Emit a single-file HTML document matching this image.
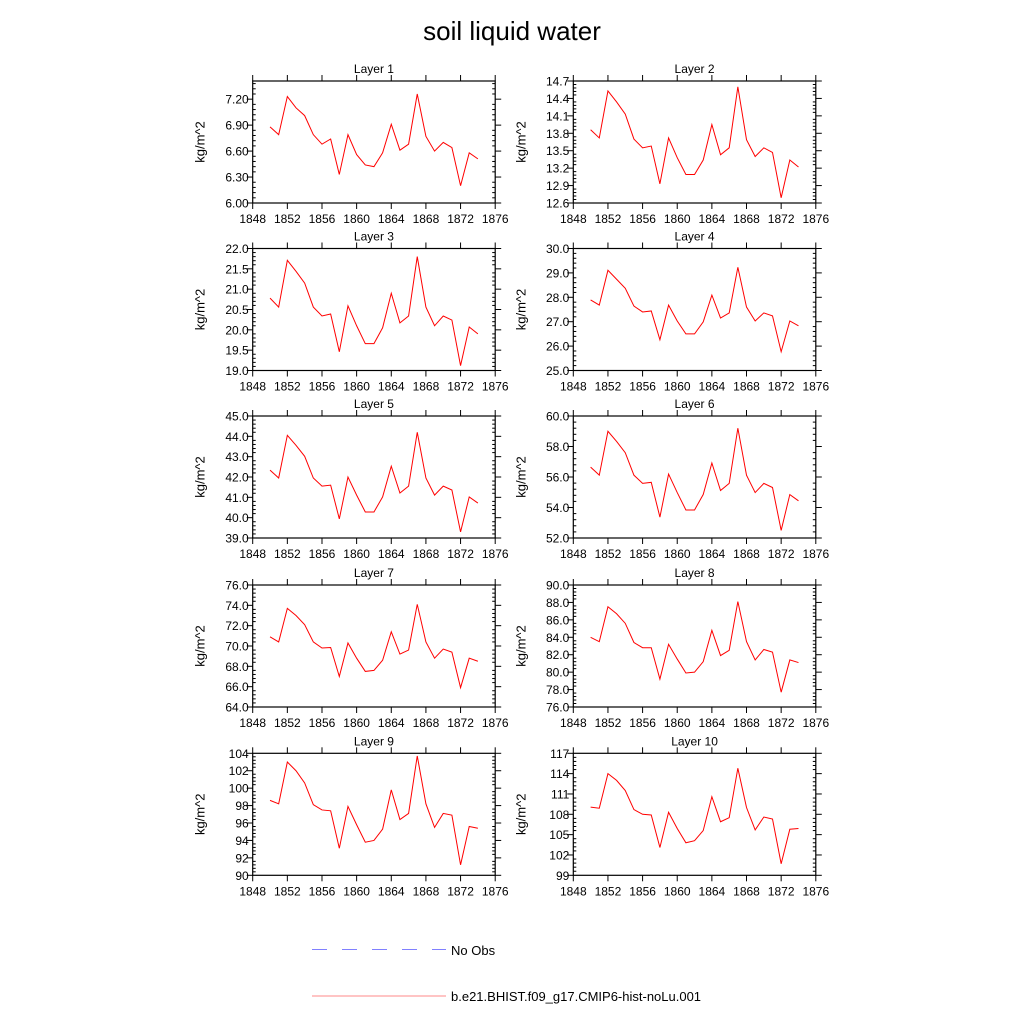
<!DOCTYPE html>
<html><head><meta charset="utf-8"><style>
body{margin:0;background:#fff}
svg text{font-family:"Liberation Sans",sans-serif;fill:#000}
</style></head><body>
<svg id="chart" width="1024" height="1024" viewBox="0 0 1024 1024" xmlns="http://www.w3.org/2000/svg">
<rect width="1024" height="1024" fill="#fff"/>
<text x="512" y="40" font-size="26" text-anchor="middle">soil liquid water</text>
<g>
<line x1="312" y1="949.5" x2="446" y2="949.5" stroke="#8080ff" stroke-width="1" stroke-dasharray="15,15"/>
<text x="451" y="955" font-size="13">No Obs</text>
<line x1="312" y1="996" x2="446" y2="996" stroke="#ff8888" stroke-width="1"/>
<text x="451" y="1001" font-size="13">b.e21.BHIST.f09_g17.CMIP6-hist-noLu.001</text>
</g>
<g id="panels"></g>
</svg>
<script>
const years=[1850,1851,1852,1853,1854,1855,1856,1857,1858,1859,1860,1861,1862,1863,1864,1865,1866,1867,1868,1869,1870,1871,1872,1873,1874];
const xTicks=[1848,1852,1856,1860,1864,1868,1872,1876];
const layer1=[6.88,6.79,7.23,7.10,7.01,6.79,6.68,6.74,6.33,6.79,6.56,6.44,6.42,6.58,6.91,6.61,6.68,7.26,6.77,6.60,6.70,6.64,6.20,6.58,6.51];
const layer2=[13.86,13.72,14.53,14.34,14.13,13.70,13.55,13.58,12.93,13.72,13.38,13.09,13.09,13.34,13.95,13.43,13.55,14.60,13.69,13.40,13.55,13.47,12.69,13.34,13.22];
const layer3=[20.78,20.56,21.71,21.44,21.15,20.56,20.34,20.39,19.46,20.59,20.10,19.66,19.66,20.05,20.90,20.17,20.34,21.80,20.56,20.10,20.34,20.24,19.12,20.07,19.90];
const layer4=[27.89,27.68,29.11,28.74,28.37,27.64,27.40,27.44,26.26,27.68,27.03,26.50,26.50,26.99,28.09,27.15,27.36,29.23,27.60,27.03,27.36,27.24,25.77,27.03,26.83];
const layer5=[42.34,41.95,44.05,43.56,43.02,41.95,41.55,41.60,39.94,42.00,41.11,40.28,40.28,41.02,42.53,41.21,41.55,44.20,41.95,41.11,41.55,41.36,39.30,41.02,40.72];
const layer6=[56.65,56.12,59.00,58.33,57.59,56.12,55.58,55.65,53.37,56.19,54.98,53.84,53.84,54.85,56.92,55.11,55.58,59.20,56.12,54.98,55.58,55.31,52.50,54.85,54.44];
const layer7=[70.90,70.40,73.70,73.00,72.10,70.40,69.80,69.85,67.00,70.30,68.80,67.50,67.60,68.60,71.40,69.20,69.60,74.10,70.40,68.80,69.70,69.40,65.90,68.80,68.50];
const layer8=[84.00,83.50,87.50,86.70,85.60,83.40,82.80,82.80,79.20,83.20,81.50,79.90,80.00,81.20,84.80,81.90,82.50,88.10,83.50,81.40,82.60,82.30,77.70,81.40,81.10];
const layer9=[98.60,98.20,103.00,102.00,100.60,98.10,97.50,97.40,93.10,97.90,95.80,93.80,94.00,95.30,99.80,96.40,97.10,103.70,98.20,95.50,97.10,96.90,91.20,95.60,95.40];
const layer10=[109.06,108.9,114.0,113.0,111.5,108.7,108.0,107.9,103.1,108.3,105.9,103.8,104.1,105.6,110.6,106.9,107.5,114.8,109.0,105.7,107.6,107.3,100.7,105.8,105.9];
const seriesList=[layer1,layer2,layer3,layer4,layer5,layer6,layer7,layer8,layer9,layer10];
const yMins=[6.0,12.6,19.0,25.0,39.0,52.0,64.0,76.0,90,99];
const yMaxs=[7.41,14.7,22.0,30.0,45.0,60.0,76.0,90.0,104,117];
const yStepsArr=[0.3,0.3,0.5,1,1,2,2,2,2,3];
const yDecimals=[2,1,1,1,1,1,1,1,0,0];
const NS='http://www.w3.org/2000/svg';
function mk(tag,attrs,parent){const e=document.createElementNS(NS,tag);for(const k in attrs)e.setAttribute(k,attrs[k]);parent.appendChild(e);return e;}
const root=document.getElementById('panels');
const pw=242.5, ph=122, lefts=[252.7,573.3], tops=[81,248.5,416,585,753.3];
seriesList.forEach((data,i)=>{
  const L=lefts[i%2], T=tops[Math.floor(i/2)], R=L+pw, B=T+ph;
  const g=mk('g',{},root);
  
  
  const x=v=>L+(v-1848)/(1876-1848)*pw;
  const y=v=>B-(v-yMins[i])/(yMaxs[i]-yMins[i])*ph;
  const title=mk('text',{x:(L+R)/2,y:T-8,'font-size':12,'text-anchor':'middle'},g);
  title.textContent='Layer '+(i+1);
  
  
  const yl=mk('text',{x:0,y:0,'font-size':13,'text-anchor':'middle',transform:`translate(${L-48},${(T+B)/2}) rotate(-90)`},g);
  yl.textContent='kg/m^2';
  
  
  const frame=mk('rect',{x:L,y:T,width:pw,height:ph,fill:'none',stroke:'#000','stroke-width':1.2},g);
  
  
  const ticks=mk('g',{stroke:'#000','stroke-width':1},g);
  
  
  xTicks.forEach(t=>{
    const xx=x(t);
    mk('line',{x1:xx,y1:B,x2:xx,y2:B+6},ticks);
    mk('line',{x1:xx,y1:T,x2:xx,y2:T-6},ticks);
    const tl=mk('text',{x:xx,y:B+20,'font-size':12,'text-anchor':'middle'},g);
    tl.textContent=t;
    
    
  });
  const st=yStepsArr[i];
  for(let k=0;;k++){
    const v=yMins[i]+k*st; if(v>yMaxs[i]+1e-6)break;
    const yy=y(v);
    mk('line',{x1:L-6,y1:yy,x2:L,y2:yy},ticks);
    mk('line',{x1:R,y1:yy,x2:R+6,y2:yy},ticks);
    const tl=mk('text',{x:L-4,y:yy+4.5,'font-size':12,'text-anchor':'end'},g);
    tl.textContent=v.toFixed(yDecimals[i]);
    
    
  }
  for(let k=0;;k++){
    const v=yMins[i]+k*st/5; if(v>yMaxs[i]+1e-6)break;
    if(k%5===0)continue;
    const yy=y(v);
    mk('line',{x1:L,y1:yy,x2:L+3,y2:yy},ticks);
    mk('line',{x1:R-3,y1:yy,x2:R,y2:yy},ticks);
  }
  const pts=data.map((v,j)=>x(years[j]).toFixed(2)+','+y(v).toFixed(2)).join(' ');
  const line=mk('polyline',{points:pts,fill:'none',stroke:'#ff0000','stroke-width':1},g);
  
  
});
</script>
</body></html>
